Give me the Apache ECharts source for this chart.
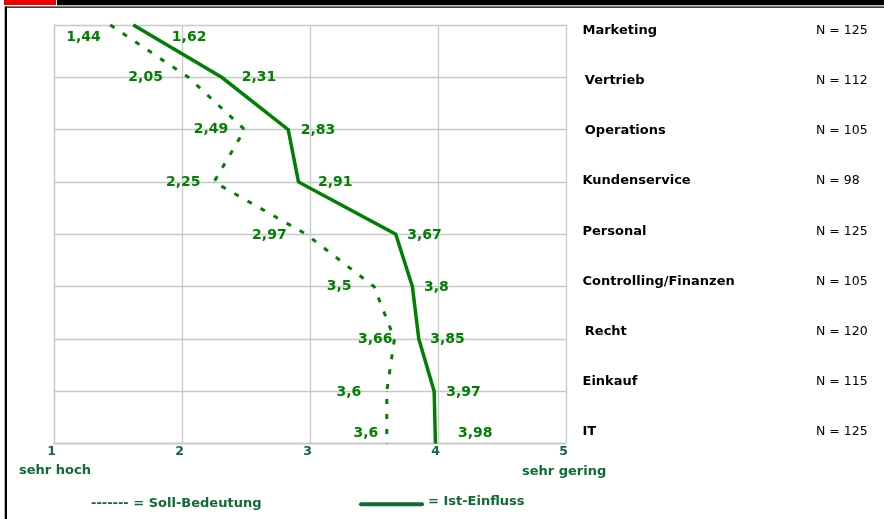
<!DOCTYPE html>
<html>
<head>
<meta charset="utf-8">
<script src="https://cdn.jsdelivr.net/npm/echarts@6/dist/echarts.min.js"></script>
<style>
html,body{margin:0;padding:0;background:#fff;}
#chart{width:884px;height:519px;}
</style>
</head>
<body>
<div id="chart"></div>
<script>
// ---- data ----
const categories = ['Marketing','Vertrieb','Operations','Kundenservice','Personal','Controlling/Finanzen','Recht','Einkauf','IT'];
const nValues = [125,112,105,98,125,105,120,115,125];
const sollValues = [1.44,2.05,2.49,2.25,2.97,3.5,3.66,3.6,3.6];
const istValues = [1.62,2.31,2.83,2.91,3.67,3.8,3.85,3.97,3.98];
const xTickMin = 1, xTickMax = 5;
const scaleLeftLabel = 'sehr hoch';
const scaleRightLabel = 'sehr gering';
const legendSoll = '------- = Soll-Bedeutung';
const legendIst = '= Ist-Einfluss';

// ---- layout (label nudges, px) ----
const istLabelOffset = [[38,12.5],[19.5,0],[12,1],[19,0.5],[11,1.5],[11,0.5],[11,0.5],[11.5,1],[22,-10.5]];
const sollLabelOffset = [[-9,12.5],[-25,0],[-16,0],[-13,0.5],[-19,1],[-22,0],[-1.5,0.5],[-25,1],[-8,-10.5]];
const catLabelNudge = [0,-4,-3,-1,0,2.5,2.5,4,1];   // + = down
const catLabelDx = [0,2.3,2.3,0,0,0,2.3,0,0];
const nLabelNudge = [0,-7,-6,-4,-3,0,0,-1,-2];

const GREEN = '#008000';
const DARKGREEN = '#0d6b35';
const GRID = '#c8c8c8';
const FONT = '"DejaVu Sans", Verdana, sans-serif';
const fmt = v => String(v).replace('.', ',');

function buildData(values, offsets) {
  return values.map((v, i) => ({
    value: [v, categories[i]],
    label: { offset: offsets[i] }
  }));
}
function nudgePad(dy, dx) {
  const t = dy > 0 ? 2 * dy : 0, b = dy < 0 ? -2 * dy : 0;
  return [t, 0, b, dx || 0];
}

const chart = echarts.init(document.getElementById('chart'), null, {renderer: 'canvas'});
chart.setOption({
  animation: false,
  backgroundColor: '#fff',
  grid: [
    {left: 54, top: 25, width: 512, height: 418.5},
    {left: 54, top: 30.5, width: 512, height: 401.5}
  ],
  xAxis: [
    {
      gridIndex: 0, type: 'value', min: xTickMin, max: xTickMax, interval: 1,
      axisLine: {show: true, lineStyle: {color: GRID, width: 1.3}},
      axisTick: {show: false},
      splitLine: {show: true, lineStyle: {color: GRID, width: 1.3}},
      axisLabel: {color: DARKGREEN, fontFamily: FONT, fontWeight: 'bold', fontSize: 12.5, margin: 2, padding: [0, 5, 0, 0]}
    },
    {gridIndex: 1, type: 'value', show: false}
  ],
  yAxis: [
    {
      gridIndex: 0, type: 'category', data: categories, inverse: true, boundaryGap: false,
      axisLine: {show: true, lineStyle: {color: GRID, width: 1.3}},
      axisTick: {show: false},
      axisLabel: {show: false},
      splitLine: {show: true, lineStyle: {color: GRID, width: 1.3}}
    },
    {
      gridIndex: 1, type: 'category', inverse: true, boundaryGap: false,
      data: categories.map((c, i) => ({value: c, textStyle: {padding: nudgePad(catLabelNudge[i], catLabelDx[i])}})),
      position: 'right',
      axisLine: {show: false}, axisTick: {show: false}, splitLine: {show: false},
      axisLabel: {align: 'left', margin: 16.5, color: '#000', fontFamily: FONT, fontWeight: 'bold', fontSize: 13, interval: 0}
    },
    {
      gridIndex: 1, type: 'category', inverse: true, boundaryGap: false,
      data: nValues.map((n, i) => ({value: 'N = ' + n, textStyle: {padding: nudgePad(nLabelNudge[i])}})),
      position: 'right', offset: 250,
      axisLine: {show: false}, axisTick: {show: false}, splitLine: {show: false},
      axisLabel: {align: 'left', margin: 0, color: '#000', fontFamily: FONT, fontSize: 12.5, interval: 0}
    }
  ],
  series: [
    {
      name: 'Soll-Bedeutung', type: 'line', xAxisIndex: 0, yAxisIndex: 0,
      data: buildData(sollValues, sollLabelOffset),
      symbol: 'circle', symbolSize: 1, itemStyle: {color: GREEN},
      lineStyle: {color: GREEN, width: 3, type: [5, 10], cap: 'butt'},
      label: {show: true, position: 'left', distance: 0, color: GREEN, fontFamily: FONT, fontWeight: 'bold', fontSize: 14,
        formatter: p => fmt(p.value[0])},
      z: 3
    },
    {
      name: 'Ist-Einfluss', type: 'line', xAxisIndex: 0, yAxisIndex: 0,
      data: buildData(istValues, istLabelOffset),
      symbol: 'circle', symbolSize: 1, itemStyle: {color: GREEN},
      lineStyle: {color: GREEN, width: 3.5, join: 'miter'},
      label: {show: true, position: 'right', distance: 0, color: GREEN, fontFamily: FONT, fontWeight: 'bold', fontSize: 14,
        formatter: p => fmt(p.value[0])},
      z: 4
    }
  ],
  graphic: [
    {type: 'rect', shape: {x: 4, y: 0, width: 52, height: 5}, style: {fill: '#ee0000'}},
    {type: 'rect', shape: {x: 57, y: 0, width: 827, height: 5.3}, style: {fill: '#000'}},
    {type: 'rect', shape: {x: 5, y: 6.5, width: 879, height: 1.2}, style: {fill: '#000'}},
    {type: 'rect', shape: {x: 4.7, y: 6.5, width: 2.3, height: 513}, style: {fill: '#000'}},
    {type: 'text', left: 19, top: 464, style: {text: scaleLeftLabel, fill: DARKGREEN, font: 'bold 13px ' + FONT}},
    {type: 'text', left: 522, top: 465, style: {text: scaleRightLabel, fill: DARKGREEN, font: 'bold 13px ' + FONT}},
    {type: 'text', left: 91, top: 497, style: {text: legendSoll, fill: DARKGREEN, font: 'bold 13px ' + FONT}},
    {type: 'line', shape: {x1: 361, y1: 504.3, x2: 422, y2: 504.3}, style: {stroke: DARKGREEN, lineWidth: 4, lineCap: 'round'}},
    {type: 'text', left: 428, top: 495, style: {text: legendIst, fill: DARKGREEN, font: 'bold 13px ' + FONT}}
  ]
});
</script>
</body>
</html>
